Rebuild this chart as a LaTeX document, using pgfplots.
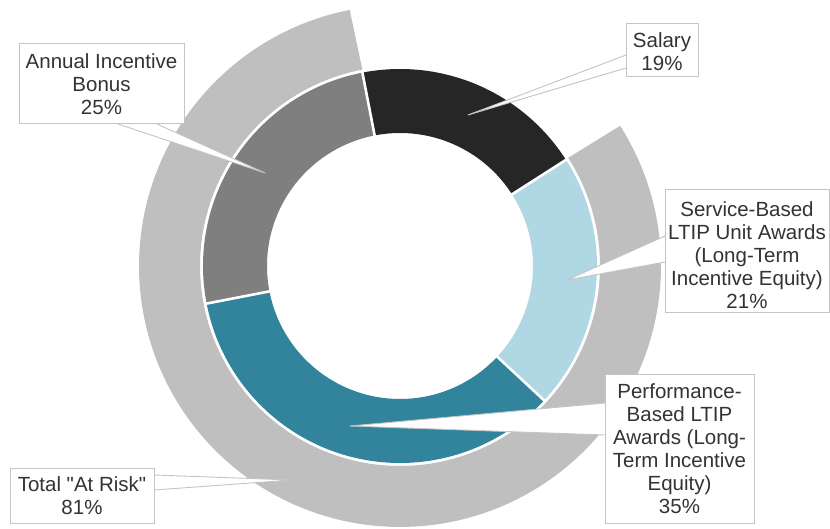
\documentclass[border=0pt]{standalone}
\usepackage{pgfplots}
\pgfplotsset{compat=1.18}
\usepackage{fontspec}
\setmainfont{Liberation Sans}
\newfontfamily\lsans{Liberation Sans}
\definecolor{cSal}{HTML}{262626}
\definecolor{cSvc}{HTML}{AFD7E4}
\definecolor{cPerf}{HTML}{31849B}
\definecolor{cAnn}{HTML}{7F7F7F}
\definecolor{cRisk}{HTML}{BFBFBF}
\definecolor{cTxt}{HTML}{333333}
\definecolor{cBox}{HTML}{C4C4C4}
% shares (percent)
\def\pSal{19}
\def\pSvc{21}
\def\pPerf{35}
\def\pAnn{25}
\def\pRisk{81}
\def\aStart{101}
\pgfmathsetmacro{\aA}{\aStart}
\pgfmathsetmacro{\aB}{\aA-3.6*\pSal}
\pgfmathsetmacro{\aC}{\aB-3.6*\pSvc}
\pgfmathsetmacro{\aD}{\aC-3.6*\pPerf}
\pgfmathsetmacro{\aE}{\aD-3.6*\pAnn}
\pgfmathsetmacro{\aR}{\aB-3.6*\pRisk}
\newcommand{\ring}[5]{%
  \addplot[draw=#1, line width=#5pt, line cap=butt, domain=#3:#2, samples=150, variable=\t]
    ({400+#4*cos(\t)},{262+#4*sin(\t)});}
\newcommand{\sep}[1]{%
  \addplot[draw=white, line width=2.6pt, domain=130:199.5, samples=2, variable=\s]
    ({400+\s*cos(#1)},{262+\s*sin(#1)});}
\newcommand{\callout}[6]{%
  \fill[white] (#1,#2) -- (#5,#6) -- (#3,#4) -- cycle;
  \draw[cBox, line width=0.9pt, line join=round] (#1,#2) -- (#5,#6) -- (#3,#4);}
\newcommand{\lbox}[7]{%
  \draw[cBox, fill=white, line width=1pt] (#1,#2) rectangle (#3,#4);
  \node[text=cTxt, align=center, inner sep=0pt, font=\lsans\fontsize{20.5}{23}\selectfont] at (#5,#6) {#7};}
\begin{document}
\begin{tikzpicture}
\begin{axis}[
  at={(0,0)}, anchor=south west,
  width=830pt, height=528pt, scale only axis,
  xmin=0, xmax=830, ymin=0, ymax=528,
  ticks=none, axis line style={draw=none},
  clip=false,
]
% outer ring: total at risk
\ring{cRisk}{\aB}{\aR}{230.5}{61}
% inner ring
\ring{cSal}{\aA}{\aB}{165}{64}
\ring{cSvc}{\aB}{\aC}{165}{64}
\ring{cPerf}{\aC}{\aD}{165}{64}
\ring{cAnn}{\aD}{\aE}{165}{64}
\sep{\aA}
\sep{\aB}
\sep{\aC}
\sep{\aD}
% callouts
\callout{118}{404}{157}{404}{265}{355}
\callout{626}{473}{626}{460}{468}{413}
\callout{665}{292}{665}{266}{567}{248}
\callout{605}{125}{605}{93}{350}{102}
\callout{154}{53}{154}{38}{292}{48}
% label boxes
\lbox{19}{404}{184}{484}{101.5}{443.5}{Annual Incentive\\Bonus\\25\%}
\lbox{626}{451}{698}{504}{662}{476.5}{Salary\\19\%}
\lbox{665}{215}{829}{338}{747}{273}{Service-Based\\LTIP Unit Awards\\(Long-Term\\Incentive Equity)\\21\%}
\lbox{605}{5}{754}{154}{679.5}{79}{Performance-\\Based LTIP\\Awards (Long-\\Term Incentive\\Equity)\\35\%}
\lbox{10}{5}{154}{60}{82}{32}{Total "At Risk"\\81\%}
\end{axis}
\end{tikzpicture}
\end{document}
